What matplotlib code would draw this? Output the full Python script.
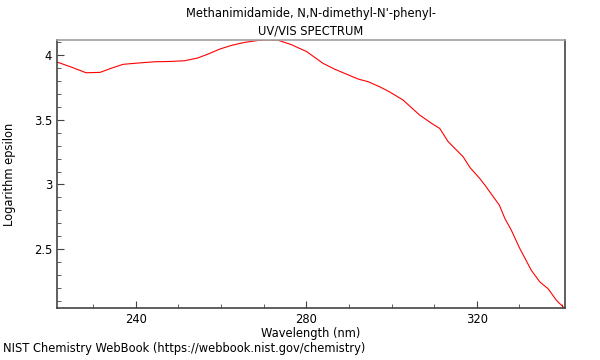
import matplotlib
matplotlib.use("Agg")
import matplotlib.pyplot as plt
from matplotlib.ticker import MultipleLocator

# values
wavelength = [221.5, 225.0, 228.3, 231.6, 234.0, 237.0, 240.5, 244.5, 248.0, 251.5,
              254.5, 257.0, 259.7, 262.5, 265.6, 268.6, 271.0, 273.4, 276.5, 280.1,
              283.9, 286.5, 289.0, 292.2, 294.5, 297.2, 299.6, 302.7, 306.6, 309.5,
              311.3, 313.3, 316.8, 318.4, 320.7, 321.9, 323.9, 325.3, 326.6, 328.1,
              330.1, 332.8, 334.8, 336.7, 338.7, 340.7]
log_eps = [3.946, 3.905, 3.863, 3.866, 3.895, 3.928, 3.938, 3.948, 3.950, 3.956,
           3.977, 4.008, 4.046, 4.075, 4.098, 4.112, 4.117, 4.114, 4.080, 4.026,
           3.936, 3.893, 3.858, 3.814, 3.794, 3.755, 3.714, 3.652, 3.536, 3.470,
           3.433, 3.33, 3.214, 3.131, 3.046, 2.995, 2.904, 2.84, 2.737, 2.647,
           2.505, 2.337, 2.247, 2.196, 2.105, 2.04]

title = "Methanimidamide, N,N-dimethyl-N'-phenyl-\nUV/VIS SPECTRUM"
fs = 8.3

fig = plt.figure(figsize=(6, 3.6), dpi=100)
ax = fig.add_axes([0.095, 0.1444, 0.8467, 0.7445])
ax.plot(wavelength, log_eps, color='red', lw=0.8)

ax.set_xlim(221.5, 340.7)
ax.set_ylim(2.046, 4.116)
ax.xaxis.set_major_locator(MultipleLocator(40))
ax.xaxis.set_minor_locator(MultipleLocator(10))
ax.yaxis.set_major_locator(MultipleLocator(0.5))
ax.yaxis.set_minor_locator(MultipleLocator(0.1))
ax.yaxis.set_major_formatter(plt.FuncFormatter(lambda v, p: ('%g' % v)))
ax.tick_params(which='both', direction='in', labelsize=fs, color='#444444')
ax.tick_params(which='major', length=5)
ax.tick_params(which='minor', length=3)
ax.tick_params(axis='x', which='both', top=False)
ax.tick_params(axis='y', which='both', right=False)

ax.spines['top'].set_color('#a0a0a0')
for s in ['left', 'bottom', 'right']:
    ax.spines[s].set_color('#444444')
for s in ax.spines.values():
    s.set_linewidth(1.2)

ax.set_xlabel("Wavelength (nm)", fontsize=fs, labelpad=1)
ax.set_ylabel("Logarithm epsilon", fontsize=fs)
ax.yaxis.set_label_coords(-0.080, 0.5)
ax.set_title(title, fontsize=fs, pad=4, linespacing=1.45)
fig.text(0.005, 0.022, "NIST Chemistry WebBook (https://webbook.nist.gov/chemistry)", fontsize=fs)

fig.savefig("out.png", dpi=100)
